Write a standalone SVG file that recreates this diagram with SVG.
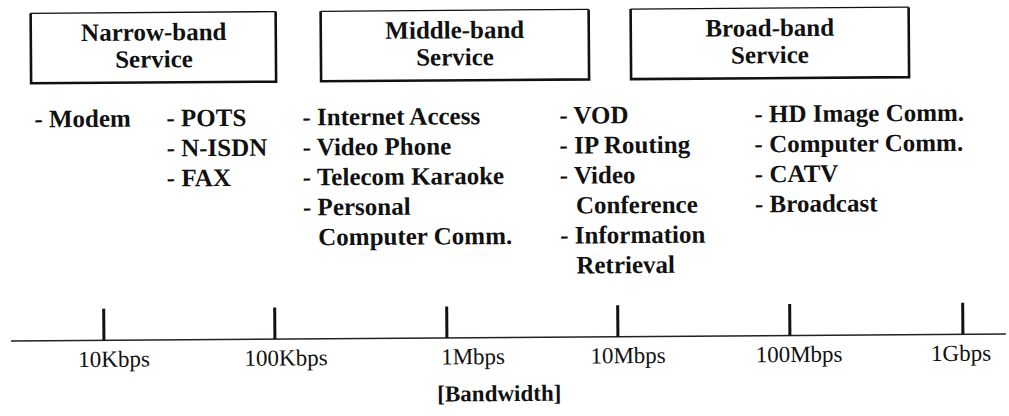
<svg xmlns="http://www.w3.org/2000/svg" width="1009" height="416" viewBox="0 0 1009 416">
  <style>
    .frame-top { fill: none; stroke: #111; stroke-width: 1.3; }
    .frame-side { fill: none; stroke: #111; stroke-width: 2.6; }
    .title { font-family: "Liberation Serif", "Times New Roman", serif; font-weight: bold; font-size: 25px; fill: #111; text-anchor: middle; }
    .item { font-family: "Liberation Serif", "Times New Roman", serif; font-weight: bold; font-size: 25px; fill: #111; }
    .rate { font-family: "Liberation Serif", "Times New Roman", serif; font-size: 23px; fill: #111; text-anchor: middle; }
    .axis { stroke: #222; stroke-width: 1.6; }
    .tick { stroke: #111; stroke-width: 3; }
  </style>
  <rect width="1009" height="416" fill="#fff"/>
  <g transform="rotate(-0.4 504 208)">
    <!-- service category boxes -->
    <g id="narrow-band">
      <path class="frame-top" d="M32 10 H277"/>
      <path class="frame-side" d="M32 10 V80 H277 V10"/>
      <text class="title" x="155" y="38">Narrow-band</text>
      <text class="title" x="155" y="65">Service</text>
    </g>
    <g id="middle-band">
      <path class="frame-top" d="M322 10 H590"/>
      <path class="frame-side" d="M322 10 V80 H590 V10"/>
      <text class="title" x="456" y="38">Middle-band</text>
      <text class="title" x="456" y="65">Service</text>
    </g>
    <g id="broad-band">
      <path class="frame-top" d="M632 10 H910"/>
      <path class="frame-side" d="M632 10 V80 H910 V10"/>
      <text class="title" x="771" y="38">Broad-band</text>
      <text class="title" x="771" y="65">Service</text>
    </g>

    <!-- services listed per bandwidth range -->
    <g id="narrow-items">
      <text class="item" x="35" y="124">- Modem</text>
      <text class="item" x="167" y="124">- POTS</text>
      <text class="item" x="167" y="154">- N-ISDN</text>
      <text class="item" x="167" y="184">- FAX</text>
    </g>
    <g id="middle-items">
      <text class="item" x="303" y="124">- Internet Access</text>
      <text class="item" x="303" y="154">- Video Phone</text>
      <text class="item" x="303" y="184">- Telecom Karaoke</text>
      <text class="item" x="303" y="214">- Personal</text>
      <text class="item" x="318" y="244">Computer Comm.</text>
    </g>
    <g id="upper-middle-items">
      <text class="item" x="560" y="124">- VOD</text>
      <text class="item" x="560" y="154">- IP Routing</text>
      <text class="item" x="560" y="184">- Video</text>
      <text class="item" x="576" y="214">Conference</text>
      <text class="item" x="560" y="244">- Information</text>
      <text class="item" x="576" y="274">Retrieval</text>
    </g>
    <g id="broad-items">
      <text class="item" x="755" y="124">- HD Image Comm.</text>
      <text class="item" x="755" y="154">- Computer Comm.</text>
      <text class="item" x="755" y="184">- CATV</text>
      <text class="item" x="755" y="214">- Broadcast</text>
    </g>

    <!-- bandwidth axis -->
    <g id="axis">
      <line class="axis" x1="10" y1="337.5" x2="1005" y2="337.5"/>
      <line class="tick" x1="103" y1="306" x2="103" y2="337.5"/>
      <line class="tick" x1="274" y1="306" x2="274" y2="337.5"/>
      <line class="tick" x1="446" y1="306" x2="446" y2="337.5"/>
      <line class="tick" x1="617" y1="306" x2="617" y2="337.5"/>
      <line class="tick" x1="789" y1="306" x2="789" y2="337.5"/>
      <line class="tick" x1="962" y1="306" x2="962" y2="337.5"/>
      <text class="rate" x="113" y="364">10Kbps</text>
      <text class="rate" x="285" y="364">100Kbps</text>
      <text class="rate" x="472" y="364">1Mbps</text>
      <text class="rate" x="627" y="364">10Mbps</text>
      <text class="rate" x="798" y="364">100Mbps</text>
      <text class="rate" x="960" y="364">1Gbps</text>
      <text class="title" x="498" y="401" style="font-size:23px">[Bandwidth]</text>
    </g>
  </g>
</svg>
